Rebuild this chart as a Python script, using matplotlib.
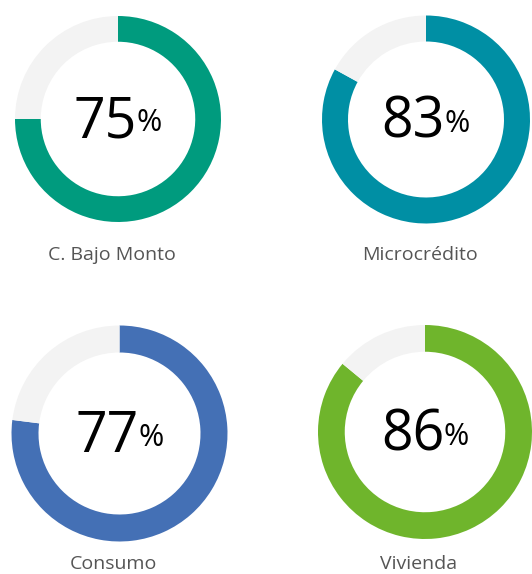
import matplotlib.pyplot as plt

labels = ["C. Bajo Monto", "Microcrédito", "Consumo", "Vivienda"]
values = [75, 83, 77, 86]
colors = ["#009B7E", "#008FA4", "#4470B5", "#6FB52C"]

W, H = 532, 574
# donut centres and radii in pixels (x, y from top, r)
layout = [(118, 119, 103), (426, 119.5, 104), (119.5, 433.5, 108), (425, 432, 107)]
label_y = [260, 260, 569, 569]

plt.rcParams["font.family"] = ["Open Sans", "DejaVu Sans"]

fig = plt.figure(figsize=(W / 100, H / 100), dpi=100)
fig.patch.set_facecolor("white")

for lab, val, col, (cx, cy, r), ly in zip(labels, values, colors, layout, label_y):
    ax = fig.add_axes([(cx - r) / W, 1 - (cy + r) / H, 2 * r / W, 2 * r / H])
    ax.pie([val, 100 - val], colors=[col, "#F3F3F3"], startangle=90,
           counterclock=False, radius=1,
           wedgeprops=dict(width=0.25, linewidth=0))
    ax.set_xlim(-1, 1)
    ax.set_ylim(-1, 1)
    ax.axis("off")

    # big number, then a smaller % sign sitting a bit above the baseline
    ax.text(0.18, -0.175, str(val), ha="right", va="baseline",
            fontsize=40, color="black")
    ax.text(0.175, -0.12, "%", ha="left", va="baseline",
            fontsize=22, color="black")

    fig.text((cx - 6) / W, 1 - ly / H, lab, ha="center", va="baseline",
             fontsize=14, color="#555555")

fig.savefig("out.png", dpi=100, facecolor="white")
